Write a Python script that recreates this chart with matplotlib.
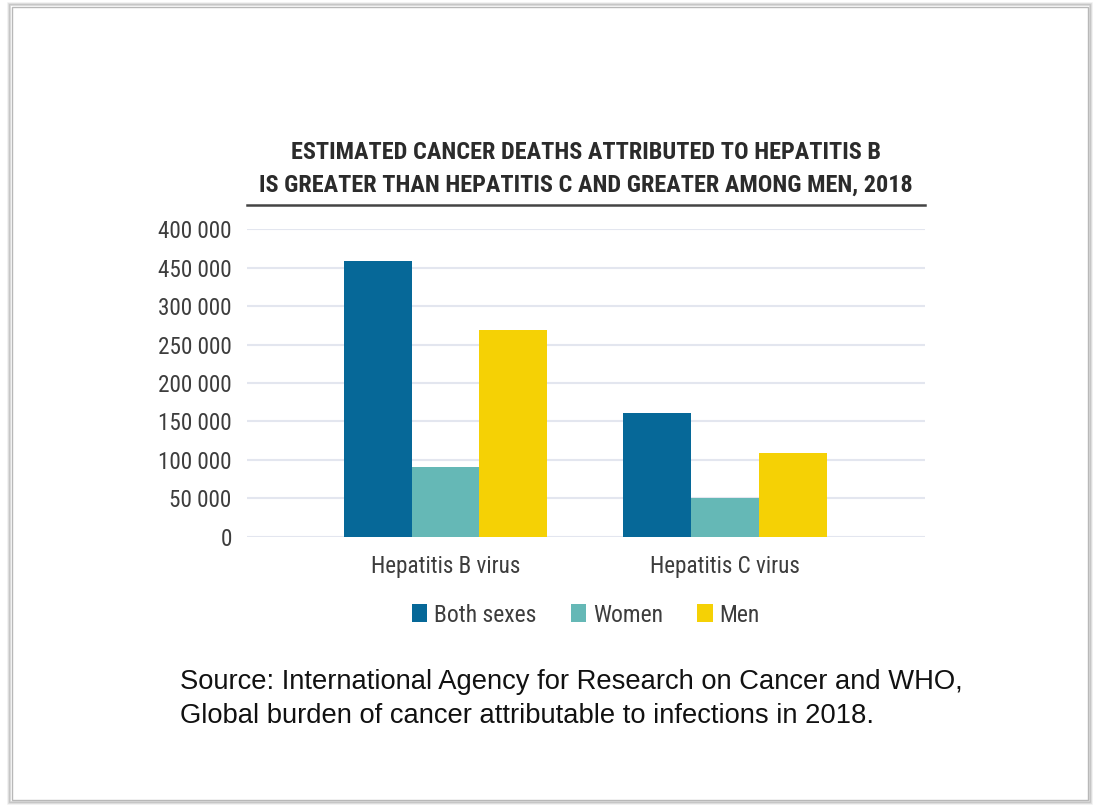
import matplotlib
matplotlib.use("Agg")
import matplotlib.pyplot as plt
import numpy as np
from matplotlib import font_manager
from matplotlib.patches import Rectangle

# ---- data ----
categories = ["Hepatitis B virus", "Hepatitis C virus"]
series_names = ["Both sexes", "Women", "Men"]
both_sexes = [359000, 161000]
women = [91000, 51000]
men = [269000, 109000]
ytick_values = [0, 50000, 100000, 150000, 200000, 250000, 300000, 350000, 400000]
ytick_labels = ["0", "50 000", "100 000", "150 000", "200 000", "250 000",
                "300 000", "450 000", "400 000"]
title_text = ("ESTIMATED CANCER DEATHS ATTRIBUTED TO HEPATITIS B\n"
              "IS GREATER THAN HEPATITIS C AND GREATER AMONG MEN, 2018")
source_text = ("Source: International Agency for Research on Cancer and WHO,\n"
               "Global burden of cancer attributable to infections in 2018.")

colors = ["#066898", "#65b8b6", "#f5d105"]

names = {f.name for f in font_manager.fontManager.ttflist}
cond = "Roboto Condensed" if "Roboto Condensed" in names else (
    "Liberation Sans Narrow" if "Liberation Sans Narrow" in names else "Roboto")
arial = "Liberation Sans"

W, H = 1102, 805
fig = plt.figure(figsize=(W / 100, H / 100), dpi=100)
fig.patch.set_facecolor("white")

# page frame with soft shadow
for i, a in enumerate([0.06, 0.10, 0.18]):
    d = 3 - i
    fig.patches.append(Rectangle(((11 - d) / W, (4 - d) / H), (1078 + 2 * d) / W,
                                 (795 + 2 * d) / H, transform=fig.transFigure,
                                 facecolor="none", edgecolor=(0, 0, 0, a),
                                 linewidth=1.2, zorder=-10))
fig.patches.append(Rectangle((12 / W, 5 / H), 1076 / W, 793 / H,
                             transform=fig.transFigure, facecolor="white",
                             edgecolor="#b8b8b8", linewidth=1.0, zorder=-9))

ax = fig.add_axes([247 / W, (H - 536.7) / H, 678 / W, (536.7 - 229.3) / H])
ax.set_facecolor("none")
ax.set_zorder(5)

x = np.arange(len(categories))
w = 0.243
for i, (vals, name) in enumerate(zip([both_sexes, women, men], series_names)):
    ax.bar(x + (i - 1) * w, vals, width=w, color=colors[i], label=name,
           zorder=3, linewidth=0)

ax.set_xlim(-0.71, 1.715)
ax.set_ylim(0, 400000)
ax.set_yticks(ytick_values)
ax.set_yticklabels(ytick_labels, fontfamily=cond, fontsize=16.7, color="#3d3d3d")
ax.set_xticks(x)
ax.set_xticklabels(categories, fontfamily=cond, fontsize=16.7, color="#3d3d3d")
ax.tick_params(axis="y", length=0, pad=11)
ax.tick_params(axis="x", length=0, pad=13)
ax.grid(axis="y", color="#e3e6ef", linewidth=1.5, zorder=0)
ax.set_axisbelow(True)
for s in ax.spines.values():
    s.set_visible(False)

# title and rule
fig.text(586 / W, 1 - 169 / H, title_text, ha="center", va="center",
         fontfamily=cond, fontweight="bold", fontsize=17.5, color="#2b2b2b",
         linespacing=1.53, zorder=6)
fig.add_artist(plt.Line2D([247 / W, 925 / W], [1 - 205 / H, 1 - 205 / H],
                          transform=fig.transFigure, color="#444444",
                          linewidth=1.8, zorder=6))

leg = ax.legend(loc="center", bbox_to_anchor=(586 / W, 1 - 615 / H),
                bbox_transform=fig.transFigure, ncol=3, frameon=False,
                prop={"family": cond, "size": 17}, handlelength=0.64,
                handleheight=0.8, handletextpad=0.3, columnspacing=1.45)
for t in leg.get_texts():
    t.set_color("#3d3d3d")

fig.text(180 / W, 1 - 699 / H, source_text, ha="left", va="center",
         fontfamily=arial, fontsize=19.7, color="#111111", linespacing=1.38,
         zorder=6)

fig.savefig("out.png", dpi=100)
